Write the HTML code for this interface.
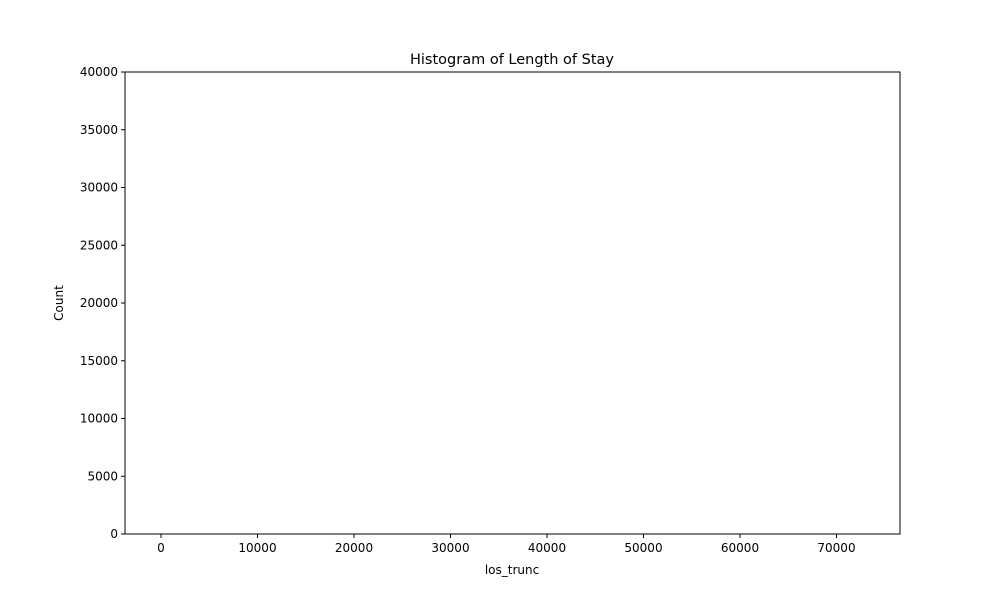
<!DOCTYPE html>
<html><head><meta charset="utf-8"><style>
body{margin:0;background:#fff;font-family:"Liberation Sans","DejaVu Sans",sans-serif}
</style></head><body>
<svg id="chart" width="1000" height="600" xmlns="http://www.w3.org/2000/svg" font-family="DejaVu Sans, Liberation Sans, sans-serif"></svg>
<script>
const binStarts = [0];
const binWidths = [100];
const counts = [40];
const xTicks = [0,10000,20000,30000,40000,50000,60000,70000];
const yTicks = [0,5000,10000,15000,20000,25000,30000,35000,40000];

const L=125,R=900,T=72,B=534;
const xs=v=>161+v*(257.5-161)/10000;
const ys=v=>B-v*(B-T)/40000;
const svg=document.getElementById('chart');
const NS='http://www.w3.org/2000/svg';
function mk(tag,attrs,text){const e=document.createElementNS(NS,tag);for(const k in attrs)e.setAttribute(k,attrs[k]);if(text!==undefined)e.textContent=text;svg.appendChild(e);return e;}

for(let i=0;i<counts.length;i++){
  const x0=xs(binStarts[i]),x1=xs(binStarts[i]+binWidths[i]);
  const b=mk('rect',{x:x0,y:ys(counts[i]),width:Math.max(1,x1-x0),height:B-ys(counts[i]),fill:'#1f77b4'});
  
  
}
const frame=mk('rect',{x:L,y:T,width:R-L,height:B-T,fill:'none',stroke:'#000','stroke-width':1});



xTicks.forEach(v=>{
  const x=xs(v);
  mk('line',{x1:x,x2:x,y1:B,y2:B+4,stroke:'#000'});
  const t=mk('text',{x:x,y:B+18,'text-anchor':'middle','font-size':12},String(v));
  
  
});
yTicks.forEach(v=>{
  const y=ys(v);
  mk('line',{x1:L-4,x2:L,y1:y,y2:y,stroke:'#000'});
  const t=mk('text',{x:L-7,y:y+4,'text-anchor':'end','font-size':12},String(v));
  
  
});
const title=mk('text',{x:512,y:64,'text-anchor':'middle','font-size':14.5},'Histogram of Length of Stay');


const xl=mk('text',{x:512,y:574,'text-anchor':'middle','font-size':12},'los_trunc');


const yl=mk('text',{x:63,y:303,'text-anchor':'middle','font-size':12,transform:'rotate(-90 63 303)'},'Count');


</script>
</body></html>
